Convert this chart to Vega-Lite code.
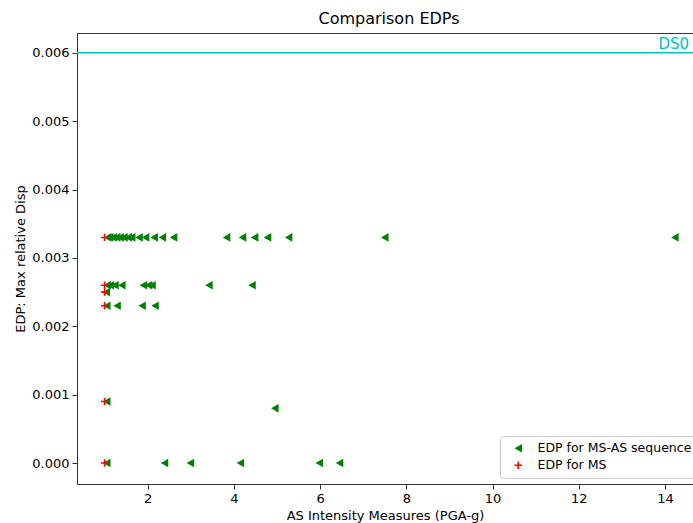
{
  "$schema": "https://vega.github.io/schema/vega-lite/v6.json",
  "autosize": {"type": "none"},
  "padding": {"left": 77, "top": 33, "right": 0, "bottom": 39},
  "width": 616,
  "height": 451,
  "title": {"text": "Comparison EDPs", "font": "DejaVu Sans", "fontSize": 16, "fontWeight": "normal", "color": "black", "offset": 6, "dx": 4},
  "config": {
    "view": {"stroke": null},
    "font": "DejaVu Sans",
    "axis": {
      "domainColor": "#333",
      "domainWidth": 1,
      "tickColor": "#333",
      "tickSize": 5,
      "labelFont": "DejaVu Sans",
      "labelFontSize": 13,
      "labelColor": "black",
      "titleFont": "DejaVu Sans",
      "titleFontSize": 13,
      "titleFontWeight": "normal",
      "titleColor": "black",
      "grid": false,
      "labelPadding": 3
    }
  },
  "resolve": {"axis": {"x": "independent"}},
  "layer": [
    {
      "data": {
        "values": [
          {"x": 1.07, "y": 0.0033, "s": "EDP for MS-AS sequence"},
          {"x": 1.12, "y": 0.0033, "s": "EDP for MS-AS sequence"},
          {"x": 1.2, "y": 0.0033, "s": "EDP for MS-AS sequence"},
          {"x": 1.28, "y": 0.0033, "s": "EDP for MS-AS sequence"},
          {"x": 1.36, "y": 0.0033, "s": "EDP for MS-AS sequence"},
          {"x": 1.45, "y": 0.0033, "s": "EDP for MS-AS sequence"},
          {"x": 1.55, "y": 0.0033, "s": "EDP for MS-AS sequence"},
          {"x": 1.63, "y": 0.0033, "s": "EDP for MS-AS sequence"},
          {"x": 1.8, "y": 0.0033, "s": "EDP for MS-AS sequence"},
          {"x": 1.95, "y": 0.0033, "s": "EDP for MS-AS sequence"},
          {"x": 2.15, "y": 0.0033, "s": "EDP for MS-AS sequence"},
          {"x": 2.34, "y": 0.0033, "s": "EDP for MS-AS sequence"},
          {"x": 2.6, "y": 0.0033, "s": "EDP for MS-AS sequence"},
          {"x": 3.83, "y": 0.0033, "s": "EDP for MS-AS sequence"},
          {"x": 4.2, "y": 0.0033, "s": "EDP for MS-AS sequence"},
          {"x": 4.48, "y": 0.0033, "s": "EDP for MS-AS sequence"},
          {"x": 4.78, "y": 0.0033, "s": "EDP for MS-AS sequence"},
          {"x": 5.27, "y": 0.0033, "s": "EDP for MS-AS sequence"},
          {"x": 7.5, "y": 0.0033, "s": "EDP for MS-AS sequence"},
          {"x": 14.23, "y": 0.0033, "s": "EDP for MS-AS sequence"},
          {"x": 1.06, "y": 0.0026, "s": "EDP for MS-AS sequence"},
          {"x": 1.13, "y": 0.0026, "s": "EDP for MS-AS sequence"},
          {"x": 1.24, "y": 0.0026, "s": "EDP for MS-AS sequence"},
          {"x": 1.4, "y": 0.0026, "s": "EDP for MS-AS sequence"},
          {"x": 1.9, "y": 0.0026, "s": "EDP for MS-AS sequence"},
          {"x": 2.02, "y": 0.0026, "s": "EDP for MS-AS sequence"},
          {"x": 2.1, "y": 0.0026, "s": "EDP for MS-AS sequence"},
          {"x": 3.42, "y": 0.0026, "s": "EDP for MS-AS sequence"},
          {"x": 4.42, "y": 0.0026, "s": "EDP for MS-AS sequence"},
          {"x": 1.04, "y": 0.0025, "s": "EDP for MS-AS sequence"},
          {"x": 1.05, "y": 0.0023, "s": "EDP for MS-AS sequence"},
          {"x": 1.29, "y": 0.0023, "s": "EDP for MS-AS sequence"},
          {"x": 1.87, "y": 0.0023, "s": "EDP for MS-AS sequence"},
          {"x": 2.17, "y": 0.0023, "s": "EDP for MS-AS sequence"},
          {"x": 1.05, "y": 0.0009, "s": "EDP for MS-AS sequence"},
          {"x": 4.95, "y": 0.0008, "s": "EDP for MS-AS sequence"},
          {"x": 1.05, "y": 0.0, "s": "EDP for MS-AS sequence"},
          {"x": 2.39, "y": 0.0, "s": "EDP for MS-AS sequence"},
          {"x": 2.99, "y": 0.0, "s": "EDP for MS-AS sequence"},
          {"x": 4.15, "y": 0.0, "s": "EDP for MS-AS sequence"},
          {"x": 5.98, "y": 0.0, "s": "EDP for MS-AS sequence"},
          {"x": 6.45, "y": 0.0, "s": "EDP for MS-AS sequence"},
          {"x": 1.0, "y": 0.0033, "s": "EDP for MS"},
          {"x": 1.0, "y": 0.0026, "s": "EDP for MS"},
          {"x": 1.0, "y": 0.0025, "s": "EDP for MS"},
          {"x": 1.0, "y": 0.0023, "s": "EDP for MS"},
          {"x": 1.0, "y": 0.0009, "s": "EDP for MS"},
          {"x": 1.0, "y": 0.0, "s": "EDP for MS"}
        ]
      },
      "mark": {"type": "point", "filled": true, "opacity": 1, "size": 75},
      "encoding": {
        "x": {"field": "x", "type": "quantitative", "scale": {"domain": [0.36, 14.65], "nice": false, "zero": false},
              "axis": {"values": [2, 4, 6, 8, 10, 12, 14], "title": "AS Intensity Measures (PGA-g)", "titlePadding": 4}},
        "y": {"field": "y", "type": "quantitative", "scale": {"domain": [-0.000307, 0.00629], "nice": false, "zero": false},
              "axis": {"values": [0, 0.001, 0.002, 0.003, 0.004, 0.005, 0.006], "format": ".3f", "title": "EDP: Max relative Disp", "titlePadding": 4}},
        "color": {"field": "s", "type": "nominal", "sort": null,
                  "scale": {"domain": ["EDP for MS-AS sequence", "EDP for MS"], "range": ["#008000", "#ff0000"]},
                  "legend": {"title": null, "orient": "none", "legendX": 423, "legendY": 403, "fillColor": "rgba(255,255,255,0.8)", "strokeColor": "#cccccc", "cornerRadius": 3, "padding": 6, "labelFont": "DejaVu Sans", "labelFontSize": 12.5, "labelColor": "black", "labelOffset": 13, "symbolOffset": 6, "rowPadding": 4, "symbolSize": 75, "labelLimit": 300}},
        "shape": {"field": "s", "type": "nominal", "sort": null,
                  "scale": {"domain": ["EDP for MS-AS sequence", "EDP for MS"], "range": ["triangle-left", "M-0.85,-0.18H-0.18V-0.85H0.18V-0.18H0.85V0.18H0.18V0.85H-0.18V0.18H-0.85Z"]}}
      }
    },
    {
      "data": {"values": [{"level": "DS0", "y": 0.006}]},
      "mark": {"type": "rule", "color": "#00bfbf", "strokeWidth": 1.5},
      "encoding": {"y": {"field": "y", "type": "quantitative"}}
    },
    {
      "data": {"values": [{"level": "DS0", "y": 0.006, "x": 14.56}]},
      "mark": {"type": "text", "color": "#00bfbf", "fontSize": 15, "fontWeight": "normal", "font": "DejaVu Sans", "align": "right", "baseline": "bottom", "dy": -1},
      "encoding": {
        "text": {"field": "level"},
        "x": {"field": "x", "type": "quantitative", "axis": {"orient": "top", "labels": false, "ticks": false, "title": null, "domain": true}},
        "y": {"field": "y", "type": "quantitative"}
      }
    }
  ]
}
